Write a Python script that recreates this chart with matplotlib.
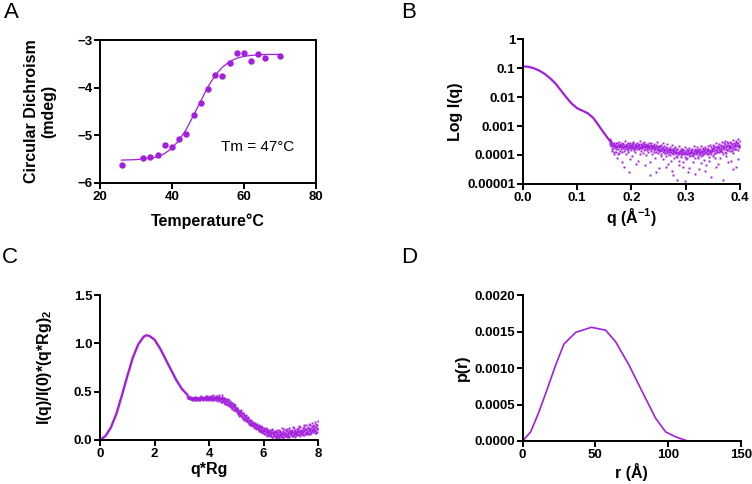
import numpy as np
import matplotlib
matplotlib.use("Agg")
import matplotlib.pyplot as plt
from matplotlib.ticker import FixedLocator, FixedFormatter

plt.rcParams['font.family'] = ['Liberation Sans', 'DejaVu Sans']
plt.rcParams['font.weight'] = 'bold'
plt.rcParams['mathtext.fontset'] = 'custom'
plt.rcParams['mathtext.rm'] = 'Liberation Sans:bold'
plt.rcParams['mathtext.it'] = 'Liberation Sans:bold'
plt.rcParams['mathtext.bf'] = 'Liberation Sans:bold'

PURPLE = '#a21fdc'

# ---- A: CD melt ----
temp_pts = [26, 32, 34, 36, 38, 40, 42, 44, 46, 48, 50, 52, 54, 56, 58, 60, 62, 64, 66, 70]
cd_pts = [-5.63, -5.47, -5.45, -5.42, -5.21, -5.25, -5.08, -4.98, -4.58, -4.32,
          -4.03, -3.73, -3.76, -3.47, -3.28, -3.27, -3.44, -3.30, -3.38, -3.33]
temp_fit = [26, 30, 34, 36, 38, 40, 42, 44, 46, 48, 50, 52, 54, 56, 58, 60, 62, 64, 66, 70]
cd_fit = [-5.52, -5.51, -5.48, -5.45, -5.38, -5.27, -5.10, -4.87, -4.58, -4.28,
          -3.98, -3.74, -3.57, -3.45, -3.38, -3.34, -3.32, -3.31, -3.30, -3.30]

# ---- B: SAXS curve (log10 of I) ----
q_smooth = [0.0, 0.01, 0.02, 0.03, 0.04, 0.05, 0.06, 0.07, 0.08, 0.09, 0.10,
            0.11, 0.12, 0.13, 0.14, 0.15, 0.16]
logI_smooth = [-0.94, -0.95, -1.0, -1.08, -1.19, -1.34, -1.52, -1.76, -2.0, -2.22, -2.38,
               -2.47, -2.56, -2.72, -2.98, -3.25, -3.5]
logI_noisy = [
    -3.45, -3.62, -3.52, -3.70, -3.58, -3.85, -3.64, -3.75, -3.98, -3.66,
    -3.72, -3.60, -3.88, -3.70, -4.10, -3.65, -3.78, -3.55, -3.92, -3.70,
    -3.68, -3.80, -3.58, -4.25, -3.72, -3.63, -3.86, -3.70, -3.52, -3.78,
    -3.66, -3.95, -3.74, -3.60, -3.82, -4.60, -3.69, -3.76, -3.57, -3.84,
    -3.70, -3.62, -4.05, -3.73, -3.55, -3.80, -3.67, -3.90, -3.64, -3.74,
    -3.58, -3.79, -3.68, -4.20, -3.62, -3.75, -3.50, -3.86, -3.71, -3.65,
    -3.77, -3.60, -3.92, -3.68, -3.56, -4.35, -3.72, -3.63, -3.83, -3.70,
    -3.66, -3.88, -3.60, -3.74, -4.70, -3.69, -3.81, -3.58, -3.95, -3.73,
    -3.70, -3.84, -3.62, -4.10, -3.76, -3.66, -3.90, -3.71, -3.55, -3.80,
    -3.78, -4.45, -3.69, -3.85, -3.64, -3.98, -3.75, -3.82, -3.60, -4.15,
    -3.80, -3.68, -3.93, -3.74, -4.05, -3.86, -3.62, -3.79, -4.30, -3.88,
    -3.84, -3.72, -4.00, -3.90, -3.66, -4.55, -3.82, -3.95, -3.76, -4.12,
    -3.88, -3.74, -4.02, -3.92, -4.85, -3.80, -3.96, -3.70, -4.20, -3.86,
    -3.92, -3.78, -4.08, -3.85, -3.98, -4.40, -3.82, -3.94, -3.72, -4.06,
    -3.90, -4.15, -3.80, -3.97, -3.86, -4.60, -3.93, -3.76, -4.04, -3.88,
    -3.84, -4.00, -3.78, -4.25, -3.92, -3.70, -3.96, -3.87, -4.10, -3.82,
    -3.88, -3.74, -4.05, -3.83, -3.95, -4.50, -3.80, -3.90, -3.68, -4.02,
    -3.86, -3.98, -3.76, -4.18, -3.84, -3.92, -3.72, -4.35, -3.88, -3.80,
    -3.82, -3.95, -3.70, -4.08, -3.86, -3.64, -3.90, -4.75, -3.78, -3.85,
    -3.80, -3.66, -3.96, -3.74, -4.12, -3.84, -3.58, -3.88, -3.72, -4.30,
    -3.76, -3.90, -3.62, -3.82, -5.00, -3.70, -3.86, -3.55, -3.95, -3.74,
    -3.72, -3.60, -3.88, -3.50, -3.78, -4.05, -3.66, -3.84, -3.58, -3.76,
    -3.70, -3.85, -3.56, -3.74, -4.20, -3.62, -3.80, -3.48, -3.92, -3.68,
    -3.66, -3.78, -3.52, -4.40, -3.70, -3.60, -3.84, -3.46, -3.72, -3.64,
]
logI_noisy2 = [
    -3.50, -3.58, -3.66, -3.55, -3.78, -3.62, -3.70, -3.90, -3.60, -3.72,
    -3.64, -3.80, -3.68, -3.58, -3.74, -3.95, -3.66, -3.71, -3.62, -3.85,
    -3.74, -3.66, -3.70, -3.90, -3.61, -3.76, -4.40, -3.68, -3.73, -3.64,
    -3.70, -3.78, -3.63, -3.72, -3.88, -3.67, -3.75, -4.15, -3.66, -3.71,
    -3.64, -3.76, -3.69, -3.58, -3.84, -3.72, -3.61, -3.77, -4.30, -3.68,
    -3.73, -3.64, -3.70, -3.80, -3.66, -3.96, -3.71, -3.62, -3.75, -3.69,
    -3.65, -3.74, -3.82, -3.61, -3.70, -3.78, -4.00, -3.67, -3.73, -3.76,
    -3.71, -3.66, -3.79, -4.25, -3.73, -3.64, -3.86, -3.70, -3.77, -3.68,
    -3.76, -3.70, -3.88, -3.72, -3.80, -4.60, -3.74, -3.83, -3.69, -3.92,
    -3.74, -3.86, -3.78, -3.70, -4.05, -3.82, -3.76, -3.90, -3.72, -3.84,
    -3.86, -3.78, -3.92, -4.40, -3.82, -3.88, -3.75, -3.97, -3.84, -3.80,
    -3.80, -3.90, -3.84, -4.20, -3.78, -3.93, -3.86, -4.70, -3.88, -3.82,
    -3.94, -3.84, -3.90, -4.06, -3.80, -3.98, -3.88, -4.35, -3.92, -3.86,
    -3.86, -4.00, -3.92, -3.80, -4.25, -3.90, -3.96, -3.84, -4.90, -3.94,
    -3.96, -3.86, -4.10, -3.92, -3.82, -4.00, -4.45, -3.88, -3.94, -3.84,
    -3.90, -3.82, -3.94, -4.05, -3.86, -3.92, -3.80, -4.65, -3.96, -3.88,
    -3.84, -3.92, -3.86, -4.12, -3.80, -3.90, -3.98, -3.85, -4.28, -3.88,
    -3.90, -3.80, -4.00, -3.86, -3.94, -3.78, -4.55, -3.88, -3.84, -3.96,
    -3.86, -3.78, -3.92, -4.22, -3.82, -3.88, -3.74, -3.96, -3.84, -4.02,
    -3.76, -3.86, -3.70, -3.92, -3.80, -4.40, -3.74, -3.82, -3.90, -3.68,
    -3.80, -3.72, -3.86, -4.10, -3.76, -3.66, -3.90, -3.78, -4.85, -3.70,
    -3.68, -3.80, -3.62, -3.74, -3.92, -3.70, -3.56, -3.82, -4.25, -3.72,
    -3.64, -3.76, -3.70, -3.58, -3.86, -3.66, -4.50, -3.74, -3.60, -3.80,
    -3.62, -3.70, -3.56, -3.80, -3.66, -4.15, -3.58, -3.74, -3.68, -3.52,
]
q_noisy = np.linspace(0.160, 0.399, len(logI_noisy))
q_noisy2 = np.linspace(0.1605, 0.3995, len(logI_noisy2))

# ---- C: dimensionless Kratky ----
qrg_smooth = [0, 0.2, 0.4, 0.6, 0.8, 1.0, 1.2, 1.4, 1.6, 1.7, 1.8, 2.0, 2.2, 2.4, 2.6, 2.8, 3.0, 3.2]
kr_smooth = [0, 0.04, 0.13, 0.27, 0.46, 0.66, 0.85, 0.99, 1.07, 1.085, 1.08, 1.04,
             0.95, 0.84, 0.73, 0.62, 0.53, 0.47]
kr_noisy = [
    0.46, 0.45, 0.44, 0.45, 0.43, 0.44, 0.42, 0.44, 0.43, 0.42,
    0.43, 0.41, 0.44, 0.42, 0.43, 0.45, 0.41, 0.43, 0.42, 0.44,
    0.42, 0.44, 0.41, 0.45, 0.43, 0.42, 0.46, 0.43, 0.41, 0.44,
    0.43, 0.45, 0.42, 0.44, 0.46, 0.42, 0.43, 0.45, 0.41, 0.44,
    0.44, 0.42, 0.46, 0.43, 0.45, 0.41, 0.44, 0.47, 0.42, 0.43,
    0.45, 0.42, 0.44, 0.41, 0.46, 0.43, 0.40, 0.44, 0.42, 0.45,
    0.41, 0.44, 0.39, 0.43, 0.47, 0.40, 0.42, 0.38, 0.44, 0.40,
    0.39, 0.42, 0.37, 0.40, 0.36, 0.41, 0.38, 0.35, 0.39, 0.36,
    0.37, 0.34, 0.38, 0.33, 0.36, 0.31, 0.35, 0.32, 0.34, 0.30,
    0.32, 0.29, 0.33, 0.28, 0.31, 0.27, 0.30, 0.26, 0.29, 0.25,
    0.27, 0.24, 0.28, 0.22, 0.26, 0.23, 0.25, 0.21, 0.24, 0.20,
    0.22, 0.19, 0.23, 0.17, 0.21, 0.18, 0.20, 0.16, 0.19, 0.15,
    0.18, 0.14, 0.17, 0.13, 0.16, 0.12, 0.15, 0.11, 0.14, 0.12,
    0.13, 0.10, 0.14, 0.09, 0.12, 0.08, 0.11, 0.13, 0.09, 0.10,
    0.11, 0.07, 0.10, 0.06, 0.09, 0.12, 0.05, 0.08, 0.10, 0.06,
    0.08, 0.05, 0.09, 0.04, 0.07, 0.10, 0.03, 0.06, 0.08, 0.05,
    0.07, 0.04, 0.09, 0.02, 0.06, 0.08, 0.03, 0.05, 0.10, 0.04,
    0.06, 0.08, 0.03, 0.07, 0.05, 0.09, 0.02, 0.06, 0.11, 0.04,
    0.07, 0.05, 0.10, 0.03, 0.08, 0.06, 0.12, 0.04, 0.07, 0.09,
    0.06, 0.09, 0.04, 0.08, 0.13, 0.05, 0.07, 0.10, 0.03, 0.08,
    0.07, 0.11, 0.05, 0.09, 0.06, 0.14, 0.08, 0.04, 0.10, 0.07,
    0.09, 0.06, 0.12, 0.08, 0.05, 0.15, 0.10, 0.07, 0.11, 0.06,
    0.10, 0.07, 0.13, 0.09, 0.17, 0.06, 0.11, 0.08, 0.14, 0.10,
    0.12, 0.08, 0.15, 0.10, 0.19, 0.09, 0.13, 0.07, 0.16, 0.11,
]
kr_noisy2 = [
    0.45, 0.44, 0.46, 0.43, 0.44, 0.42, 0.45, 0.43, 0.44, 0.41,
    0.42, 0.44, 0.43, 0.41, 0.45, 0.42, 0.44, 0.43, 0.41, 0.43,
    0.44, 0.42, 0.43, 0.41, 0.44, 0.45, 0.42, 0.44, 0.43, 0.42,
    0.42, 0.44, 0.43, 0.45, 0.41, 0.44, 0.46, 0.42, 0.45, 0.43,
    0.43, 0.45, 0.41, 0.44, 0.42, 0.46, 0.43, 0.41, 0.45, 0.44,
    0.42, 0.44, 0.46, 0.41, 0.43, 0.45, 0.42, 0.47, 0.41, 0.43,
    0.43, 0.40, 0.42, 0.45, 0.39, 0.41, 0.44, 0.40, 0.37, 0.42,
    0.40, 0.37, 0.41, 0.38, 0.42, 0.36, 0.39, 0.37, 0.40, 0.34,
    0.35, 0.38, 0.32, 0.36, 0.34, 0.37, 0.31, 0.33, 0.36, 0.32,
    0.30, 0.33, 0.27, 0.31, 0.29, 0.25, 0.30, 0.28, 0.31, 0.26,
    0.25, 0.28, 0.23, 0.26, 0.21, 0.25, 0.22, 0.26, 0.20, 0.23,
    0.20, 0.24, 0.18, 0.21, 0.16, 0.20, 0.17, 0.21, 0.15, 0.18,
    0.16, 0.19, 0.13, 0.15, 0.18, 0.12, 0.16, 0.13, 0.17, 0.11,
    0.12, 0.15, 0.09, 0.13, 0.10, 0.14, 0.08, 0.12, 0.10, 0.07,
    0.09, 0.12, 0.06, 0.10, 0.08, 0.04, 0.11, 0.07, 0.09, 0.05,
    0.07, 0.10, 0.04, 0.08, 0.06, 0.11, 0.03, 0.07, 0.05, 0.09,
    0.05, 0.08, 0.03, 0.07, 0.10, 0.04, 0.06, 0.02, 0.08, 0.05,
    0.09, 0.04, 0.07, 0.05, 0.12, 0.03, 0.08, 0.06, 0.04, 0.07,
    0.05, 0.09, 0.06, 0.11, 0.04, 0.08, 0.03, 0.10, 0.06, 0.08,
    0.08, 0.05, 0.10, 0.07, 0.04, 0.09, 0.12, 0.06, 0.08, 0.05,
    0.09, 0.06, 0.08, 0.12, 0.05, 0.10, 0.07, 0.13, 0.06, 0.09,
    0.07, 0.10, 0.05, 0.09, 0.13, 0.07, 0.11, 0.06, 0.16, 0.08,
    0.08, 0.12, 0.06, 0.11, 0.09, 0.15, 0.07, 0.12, 0.10, 0.18,
    0.09, 0.14, 0.11, 0.07, 0.13, 0.10, 0.17, 0.12, 0.08, 0.20,
]
qrg_noisy = np.linspace(3.2, 7.98, len(kr_noisy))
qrg_noisy2 = np.linspace(3.21, 7.99, len(kr_noisy2))

# ---- D: pair distance distribution ----
r_vals = [0, 5.5, 11.2, 17, 22.7, 28.4, 36.5, 47.3, 57.1, 64, 73.2, 82.4, 91.5, 98.4, 105.3, 113.3]
pr_vals = [0, 0.000123, 0.000397, 0.000717, 0.00104, 0.00133, 0.00149, 0.00156,
           0.00152, 0.00136, 0.00104, 0.00067, 0.00031, 0.000123, 0.000055, 0.0]

fig = plt.figure(figsize=(7.52, 4.84), dpi=100)


def style(ax, box=False):
    for s in ['left', 'bottom', 'top', 'right']:
        ax.spines[s].set_linewidth(1.4)
    if not box:
        ax.spines['top'].set_visible(False)
        ax.spines['right'].set_visible(False)
    ax.tick_params(direction='out', length=4, width=1.4, labelsize=9.5, pad=1.5)
    for lab in ax.get_xticklabels() + ax.get_yticklabels():
        lab.set_fontweight('bold')


axA = fig.add_axes([0.133, 0.622, 0.287, 0.295])
axA.plot(temp_fit, cd_fit, color=PURPLE, lw=0.9)
axA.plot(temp_pts, cd_pts, 'o', color=PURPLE, ms=4.6, mec='none')
axA.set_xlim(20, 80)
axA.set_ylim(-6, -3)
axA.set_xticks([20, 40, 60, 80])
axA.set_yticks([-6, -5, -4, -3])
axA.text(53.5, -5.24, 'Tm = 47°C', fontsize=11, fontweight='normal', va='center')
axA.set_xlabel('Temperature°C', fontsize=11.5, fontweight='bold', labelpad=8)
axA.set_ylabel('Circular Dichroism\n(mdeg)', fontsize=11.5, fontweight='bold', labelpad=15)
style(axA, box=True)

axB = fig.add_axes([0.695, 0.620, 0.289, 0.299])
axB.plot(q_smooth, 10 ** np.array(logI_smooth), color=PURPLE, lw=1.6)
axB.plot(q_noisy, 10 ** np.array(logI_noisy), 's', color=PURPLE, ms=1.4, mec='none')
axB.plot(q_noisy2, 10 ** np.array(logI_noisy2), 's', color=PURPLE, ms=1.4, mec='none')
axB.set_yscale('log')
axB.set_xlim(0, 0.4)
axB.set_ylim(1e-5, 1)
axB.set_xticks([0, 0.1, 0.2, 0.3, 0.4])
axB.set_xticklabels(['0.0', '0.1', '0.2', '0.3', '0.4'])
axB.yaxis.set_major_locator(FixedLocator([1e-5, 1e-4, 1e-3, 1e-2, 1e-1, 1]))
axB.yaxis.set_major_formatter(FixedFormatter(['0.00001', '0.0001', '0.001', '0.01', '0.1', '1']))
axB.yaxis.set_minor_locator(FixedLocator([]))
axB.set_xlabel(r'q (Å$^{-1}$)', fontsize=11.5, fontweight='bold', labelpad=2)
axB.set_ylabel('Log I(q)', fontsize=11.5, fontweight='bold', labelpad=3)
style(axB)

axC = fig.add_axes([0.133, 0.091, 0.290, 0.299])
axC.plot(qrg_smooth, kr_smooth, color=PURPLE, lw=1.7)
axC.plot(qrg_noisy, kr_noisy, 's', color=PURPLE, ms=1.4, mec='none')
axC.plot(qrg_noisy2, kr_noisy2, 's', color=PURPLE, ms=1.4, mec='none')
axC.set_xlim(0, 8)
axC.set_ylim(0, 1.5)
axC.set_xticks([0, 2, 4, 6, 8])
axC.set_yticks([0, 0.5, 1.0, 1.5])
axC.set_yticklabels(['0.0', '0.5', '1.0', '1.5'])
axC.set_xlabel('q*Rg', fontsize=11.5, fontweight='bold', labelpad=2)
axC.set_ylabel(r'I(q)/I(0)*(q*Rg)$_2$', fontsize=11.5, fontweight='bold', labelpad=14)
style(axC)

axD = fig.add_axes([0.695, 0.089, 0.290, 0.301])
axD.plot(r_vals, pr_vals, color=PURPLE, lw=1.2)
axD.set_xlim(0, 150)
axD.set_ylim(0, 0.002)
axD.set_xticks([0, 50, 100, 150])
axD.set_yticks([0, 0.0005, 0.001, 0.0015, 0.002])
axD.set_yticklabels(['0.0000', '0.0005', '0.0010', '0.0015', '0.0020'])
axD.set_xlabel('r (Å)', fontsize=11.5, fontweight='bold', labelpad=2)
axD.set_ylabel('p(r)', fontsize=11.5, fontweight='bold', labelpad=3)
style(axD)

for lbl, x, y in [('A', 0.005, 0.995), ('B', 0.533, 0.995), ('C', 0.003, 0.49), ('D', 0.533, 0.49)]:
    fig.text(x, y, lbl, fontsize=16, fontweight='normal', va='top', ha='left')

fig.savefig('out.png', dpi=100)
